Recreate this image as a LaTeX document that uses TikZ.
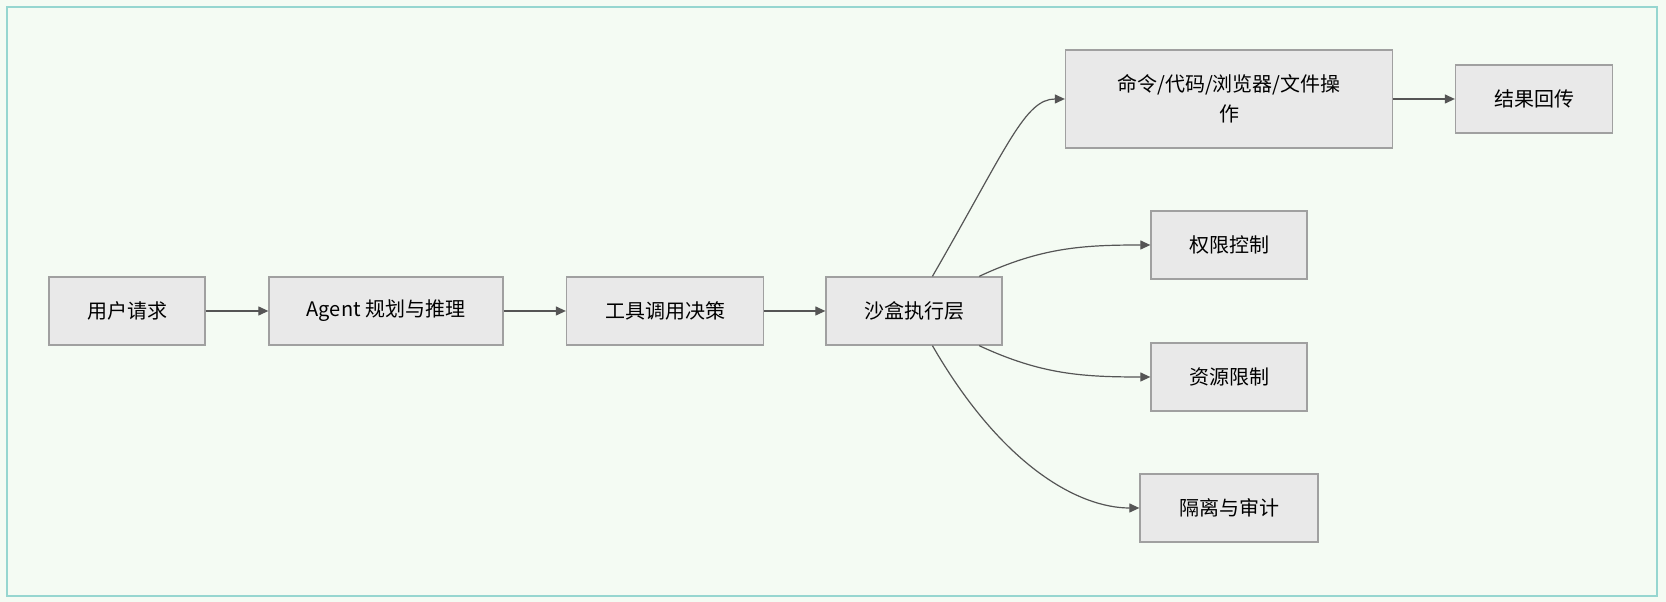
\documentclass[tikz,border=0pt]{standalone}
\usepackage{fontspec}
\setmainfont{Noto Sans CJK SC}
\usepackage{tikz}
\usetikzlibrary{arrows.meta,positioning}
\definecolor{bg}{RGB}{244,251,243}
\definecolor{fr}{RGB}{150,214,208}
\definecolor{nf}{RGB}{233,233,233}
\definecolor{bd}{RGB}{160,160,160}
\definecolor{ln}{RGB}{85,85,85}

\begin{document}
\begin{tikzpicture}[
    x=1pt,y=1pt,
    blk/.style={rectangle,draw=bd,fill=nf,minimum height=68pt,inner sep=0pt,font=\fontsize{20}{30}\selectfont,line width=1.3pt,align=center},
    arr/.style={-{Triangle[length=10pt,width=9pt]},draw=ln,line width=1.2pt},
]
\fill[bg] (0,0) rectangle (1666,602);
\useasboundingbox (0,0) rectangle (1666,602);
\draw[fr,line width=2pt] (7,6) rectangle (1657,595);

\node[blk,minimum width=156pt] (req) at (127,291) {用户请求};
\node[blk,minimum width=234pt] (plan) at (386,291) {Agent 规划与推理};
\node[blk,minimum width=197pt] (tool) at (665,291) {工具调用决策};
\node[blk,minimum width=176pt] (sbox) at (914,291) {沙盒执行层};
\node[blk,minimum width=327pt,minimum height=98pt] (ops) at (1229,503) {命令/代码/浏览器/文件操\\作};
\node[blk,minimum width=157pt] (ret) at (1534,503) {结果回传};
\node[blk,minimum width=156pt] (perm) at (1229,357) {权限控制};
\node[blk,minimum width=156pt] (res) at (1229,225) {资源限制};
\node[blk,minimum width=178pt] (iso) at (1229,94) {隔离与审计};

\draw[arr] (req) -- (plan);
\draw[arr] (plan) -- (tool);
\draw[arr] (tool) -- (sbox);
\draw[arr] (sbox.62) .. controls +(60:150) and +(-40,0) .. (ops.west);
\draw[arr] (ops) -- (ret);
\draw[arr] (sbox.28) to[out=25,in=180] (perm.west);
\draw[arr] (sbox.-28) to[out=-25,in=180] (res.west);
\draw[arr] (sbox.-62) .. controls +(-60:140) and +(-60,0) .. (iso.west);
\end{tikzpicture}
\end{document}
